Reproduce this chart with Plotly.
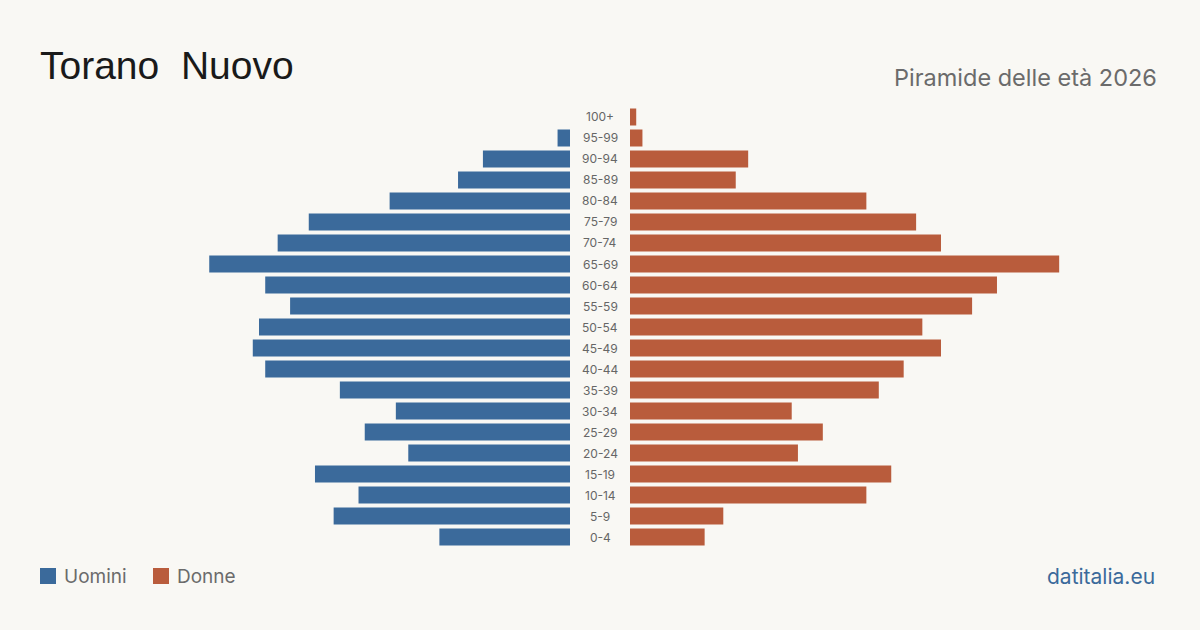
import plotly.graph_objects as go

age_groups = ["0-4", "5-9", "10-14", "15-19", "20-24", "25-29", "30-34", "35-39",
              "40-44", "45-49", "50-54", "55-59", "60-64", "65-69", "70-74",
              "75-79", "80-84", "85-89", "90-94", "95-99", "100+"]
men = [21, 38, 34, 41, 26, 33, 28, 37, 49, 51, 50, 45, 49, 58, 47, 42, 29, 18, 14, 2, 0]
women = [12, 15, 38, 42, 27, 31, 26, 40, 44, 50, 47, 55, 59, 69, 50, 46, 38, 17, 19, 2, 1]
series_names = ["Uomini", "Donne"]
colors = ["#3b6a9b", "#b95c3c"]

title = "Torano  Nuovo"
subtitle = "Piramide delle età 2026"
source = "datitalia.eu"

W, H = 1200, 630
bg = "#f9f8f4"
px_per_unit = 6.22
half = 570 / px_per_unit

fig = go.Figure()
fig.add_trace(go.Bar(y=age_groups, x=men, orientation="h", marker_color=colors[0],
                     marker_line_width=0,
                     name=series_names[0], xaxis="x", yaxis="y", showlegend=False,
                     hoverinfo="x+y"))
fig.add_trace(go.Bar(y=age_groups, x=women, orientation="h", marker_color=colors[1],
                     marker_line_width=0,
                     name=series_names[1], xaxis="x2", yaxis="y", showlegend=False,
                     hoverinfo="x+y"))

y_bottom = (H - 547.5) / H
y_top = (H - 106.5) / H

annotations = []
for g in age_groups:
    annotations.append(dict(x=0.5, xref="paper", y=g, yref="y", text=g, showarrow=False,
                            font=dict(family="Inter", size=12, color="#666666"),
                            xanchor="center", yanchor="middle"))

annotations.append(dict(x=38 / W, xref="paper", y=(H - 66) / H, yref="paper", text=title,
                        showarrow=False, xanchor="left", yanchor="middle",
                        font=dict(family="Liberation Sans", size=39, color="#1a1a1a")))
annotations.append(dict(x=1159 / W, xref="paper", y=(H - 77) / H, yref="paper", text=subtitle,
                        showarrow=False, xanchor="right", yanchor="middle",
                        font=dict(family="Inter", size=23.5, color="#6b6b6b")))
annotations.append(dict(x=1157 / W, xref="paper", y=(H - 576) / H, yref="paper", text=source,
                        showarrow=False, xanchor="right", yanchor="middle",
                        font=dict(family="Inter", size=21, color="#3b6a9b")))

shapes = []
legend_x = [40, 153]
for i, name in enumerate(series_names):
    x0 = legend_x[i]
    shapes.append(dict(type="rect", xref="paper", yref="paper",
                       x0=x0 / W, x1=(x0 + 16) / W, y0=(H - 584) / H, y1=(H - 568) / H,
                       fillcolor=colors[i], line=dict(width=0)))
    annotations.append(dict(x=(x0 + 22) / W, xref="paper", y=(H - 576) / H, yref="paper",
                            text=name, showarrow=False, xanchor="left", yanchor="middle",
                            font=dict(family="Inter", size=19, color="#6b6b6b")))

fig.update_layout(
    width=W, height=H,
    margin=dict(l=0, r=0, t=0, b=0),
    paper_bgcolor=bg, plot_bgcolor=bg,
    bargap=0.19,
    xaxis=dict(domain=[0, 570 / W], range=[half, 0], visible=False, fixedrange=True),
    xaxis2=dict(domain=[630 / W, 1], range=[0, half], visible=False, fixedrange=True),
    yaxis=dict(domain=[y_bottom, y_top], range=[-0.5, 20.5], visible=False,
               categoryorder="array", categoryarray=age_groups, anchor="x"),
    annotations=annotations,
    shapes=shapes,
    showlegend=False,
)

fig.write_html("out.html")
